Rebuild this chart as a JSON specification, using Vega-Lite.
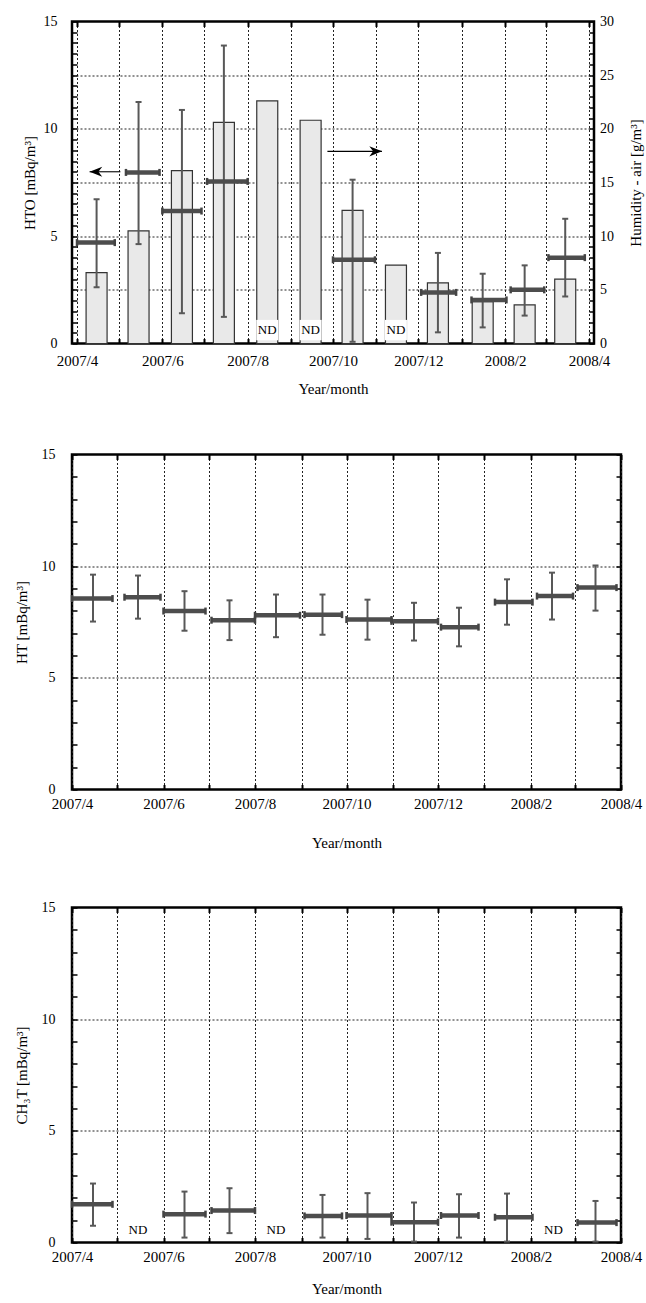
{
  "$schema": "https://vega.github.io/schema/vega-lite/v6.json",
  "background": "white",
  "padding": {"left": 12, "top": 12.5, "right": 0, "bottom": 5},
  "config": {
    "view": {"stroke": "#000", "strokeWidth": 2.5},
    "font": "Liberation Serif",
    "axis": {"labelFont": "Liberation Serif", "titleFont": "Liberation Serif", "labelFontSize": 15, "titleFontSize": 15, "titleFontWeight": "normal", "labelColor": "#000", "titleColor": "#000", "domain": false, "tickColor": "#000", "tickWidth": 1.5, "tickSize": -5, "gridColor": "#222", "gridDash": [2, 2], "gridWidth": 1},
    "axisY": {"labelFontSize": 14},
    "text": {"font": "Liberation Serif"}
  },
  "datasets": {
    "hto": [
      {"month": "2007-04", "start": "2007-04-01", "end": "2007-04-28", "mid": "2007-04-15", "hto": 4.70, "lo": 2.62, "hi": 6.72, "humidity": 6.6, "nd": false},
      {"month": "2007-05", "start": "2007-05-06", "end": "2007-05-30", "mid": "2007-05-15", "hto": 7.97, "lo": 4.63, "hi": 11.25, "humidity": 10.5, "nd": false},
      {"month": "2007-06", "start": "2007-06-01", "end": "2007-06-29", "mid": "2007-06-15", "hto": 6.17, "lo": 1.41, "hi": 10.88, "humidity": 16.1, "nd": false},
      {"month": "2007-07", "start": "2007-07-03", "end": "2007-08-01", "mid": "2007-07-15", "hto": 7.55, "lo": 1.24, "hi": 13.88, "humidity": 20.6, "nd": false},
      {"month": "2007-08", "mid": "2007-08-15", "humidity": 22.6, "nd": true},
      {"month": "2007-09", "mid": "2007-09-15", "humidity": 20.8, "nd": true},
      {"month": "2007-10", "start": "2007-10-01", "end": "2007-10-31", "mid": "2007-10-15", "hto": 3.90, "lo": 0.08, "hi": 7.63, "humidity": 12.4, "nd": false},
      {"month": "2007-11", "mid": "2007-11-15", "humidity": 7.3, "nd": true},
      {"month": "2007-12", "start": "2007-12-03", "end": "2007-12-28", "mid": "2007-12-15", "hto": 2.38, "lo": 0.52, "hi": 4.22, "humidity": 5.65, "nd": false},
      {"month": "2008-01", "start": "2008-01-08", "end": "2008-02-02", "mid": "2008-01-16", "hto": 2.03, "lo": 0.75, "hi": 3.25, "humidity": 3.9, "nd": false},
      {"month": "2008-02", "start": "2008-02-05", "end": "2008-02-29", "mid": "2008-02-15", "hto": 2.50, "lo": 1.30, "hi": 3.64, "humidity": 3.6, "nd": false},
      {"month": "2008-03", "start": "2008-03-03", "end": "2008-03-29", "mid": "2008-03-15", "hto": 4.00, "lo": 2.19, "hi": 5.81, "humidity": 6.0, "nd": false}
    ],
    "arrows": [
      {"series": "HTO", "tail": "2007-05-02", "tip": "2007-04-10", "level": 8.0},
      {"series": "Humidity", "tail": "2007-09-27", "tip": "2007-11-05", "level": 8.95}
    ],
    "ht": [
      {"month": "2007-04", "start": "2007-04-01", "end": "2007-04-28", "mid": "2007-04-15", "val": 8.55, "lo": 7.52, "hi": 9.62},
      {"month": "2007-05", "start": "2007-05-06", "end": "2007-05-30", "mid": "2007-05-15", "val": 8.61, "lo": 7.65, "hi": 9.58},
      {"month": "2007-06", "start": "2007-06-01", "end": "2007-06-29", "mid": "2007-06-15", "val": 7.99, "lo": 7.11, "hi": 8.88},
      {"month": "2007-07", "start": "2007-07-03", "end": "2007-08-01", "mid": "2007-07-15", "val": 7.58, "lo": 6.69, "hi": 8.47},
      {"month": "2007-08", "start": "2007-08-01", "end": "2007-08-31", "mid": "2007-08-15", "val": 7.80, "lo": 6.82, "hi": 8.73},
      {"month": "2007-09", "start": "2007-09-03", "end": "2007-09-28", "mid": "2007-09-15", "val": 7.83, "lo": 6.93, "hi": 8.73},
      {"month": "2007-10", "start": "2007-10-01", "end": "2007-10-31", "mid": "2007-10-15", "val": 7.61, "lo": 6.71, "hi": 8.50},
      {"month": "2007-11", "start": "2007-10-31", "end": "2007-12-01", "mid": "2007-11-15", "val": 7.53, "lo": 6.67, "hi": 8.36},
      {"month": "2007-12", "start": "2007-12-03", "end": "2007-12-28", "mid": "2007-12-15", "val": 7.27, "lo": 6.41, "hi": 8.14},
      {"month": "2008-01", "start": "2008-01-08", "end": "2008-02-02", "mid": "2008-01-16", "val": 8.39, "lo": 7.38, "hi": 9.41},
      {"month": "2008-02", "start": "2008-02-05", "end": "2008-02-29", "mid": "2008-02-15", "val": 8.66, "lo": 7.61, "hi": 9.71},
      {"month": "2008-03", "start": "2008-03-03", "end": "2008-03-29", "mid": "2008-03-15", "val": 9.04, "lo": 8.01, "hi": 10.03}
    ],
    "ch3t": [
      {"month": "2007-04", "start": "2007-04-01", "end": "2007-04-28", "mid": "2007-04-15", "val": 1.71, "lo": 0.75, "hi": 2.64, "nd": false},
      {"month": "2007-05", "mid": "2007-05-15", "nd": true},
      {"month": "2007-06", "start": "2007-06-01", "end": "2007-06-29", "mid": "2007-06-15", "val": 1.27, "lo": 0.22, "hi": 2.28, "nd": false},
      {"month": "2007-07", "start": "2007-07-03", "end": "2007-08-01", "mid": "2007-07-15", "val": 1.43, "lo": 0.42, "hi": 2.43, "nd": false},
      {"month": "2007-08", "mid": "2007-08-15", "nd": true},
      {"month": "2007-09", "start": "2007-09-03", "end": "2007-09-28", "mid": "2007-09-15", "val": 1.19, "lo": 0.22, "hi": 2.13, "nd": false},
      {"month": "2007-10", "start": "2007-10-01", "end": "2007-10-31", "mid": "2007-10-15", "val": 1.21, "lo": 0.16, "hi": 2.21, "nd": false},
      {"month": "2007-11", "start": "2007-10-31", "end": "2007-12-01", "mid": "2007-11-15", "val": 0.91, "lo": 0.04, "hi": 1.79, "nd": false},
      {"month": "2007-12", "start": "2007-12-03", "end": "2007-12-28", "mid": "2007-12-15", "val": 1.21, "lo": 0.22, "hi": 2.16, "nd": false},
      {"month": "2008-01", "start": "2008-01-08", "end": "2008-02-02", "mid": "2008-01-16", "val": 1.13, "lo": 0.04, "hi": 2.19, "nd": false},
      {"month": "2008-02", "mid": "2008-02-16", "nd": true},
      {"month": "2008-03", "start": "2008-03-03", "end": "2008-03-29", "mid": "2008-03-15", "val": 0.89, "lo": 0.04, "hi": 1.86, "nd": false}
    ]
  },
  "columns": 1,
  "spacing": 47,
  "concat": [
    {
      "width": 522,
      "height": 322,
      "data": {"name": "hto"},
      "layer": [
        {
          "mark": {"type": "bar", "width": 21, "fill": "#e9e9e9", "stroke": "#333", "strokeWidth": 1.2},
          "encoding": {
            "x": {"field": "mid", "type": "temporal", "scale": {"type": "utc", "domain": [{"year": 2007, "month": 4, "date": 1, "utc": true}, {"year": 2008, "month": 4, "date": 1, "utc": true}]}, "axis": null},
            "y": {"field": "humidity", "type": "quantitative", "scale": {"domain": [0, 30], "nice": false},
              "axis": {"orient": "right", "title": "Humidity - air [g/m³]", "titleAngle": 270, "titleBaseline": "top", "values": [0,1,2,3,4,5,6,7,8,9,10,11,12,13,14,15,16,17,18,19,20,21,22,23,24,25,26,27,28,29,30], "labelExpr": "datum.value % 5 == 0 ? format(datum.value, 'd') : ''", "grid": false, "labelPadding": 10.5, "titlePadding": 15}}
          }
        },
        {
          "layer": [
            {
              "transform": [{"filter": "!datum.nd"}],
              "mark": {"type": "rule", "color": "#585858", "strokeWidth": 2},
              "encoding": {
                "x": {"field": "mid", "type": "temporal", "scale": {"type": "utc", "domain": [{"year": 2007, "month": 4, "date": 1, "utc": true}, {"year": 2008, "month": 4, "date": 1, "utc": true}]},
                  "axis": {"orient": "top", "title": null, "tickCount": {"interval": "month", "step": 1}, "labels": false, "grid": false, "tickWidth": 2}},
                "y": {"field": "lo", "type": "quantitative", "scale": {"domain": [0, 15], "nice": false}, "axis": null},
                "y2": {"field": "hi"}
              }
            },
            {
              "transform": [{"filter": "!datum.nd"}],
              "mark": {"type": "tick", "orient": "horizontal", "size": 6, "thickness": 2, "color": "#585858", "opacity": 1},
              "encoding": {
                "x": {"field": "mid", "type": "temporal", "scale": {"type": "utc", "domain": [{"year": 2007, "month": 4, "date": 1, "utc": true}, {"year": 2008, "month": 4, "date": 1, "utc": true}]}, "axis": null},
                "y": {"field": "lo", "type": "quantitative", "scale": {"domain": [0, 15], "nice": false}, "axis": null}
              }
            },
            {
              "transform": [{"filter": "!datum.nd"}],
              "mark": {"type": "tick", "orient": "horizontal", "size": 6, "thickness": 2, "color": "#585858", "opacity": 1},
              "encoding": {
                "x": {"field": "mid", "type": "temporal", "scale": {"type": "utc", "domain": [{"year": 2007, "month": 4, "date": 1, "utc": true}, {"year": 2008, "month": 4, "date": 1, "utc": true}]}, "axis": null},
                "y": {"field": "hi", "type": "quantitative", "scale": {"domain": [0, 15], "nice": false}, "axis": null}
              }
            },
            {
              "transform": [{"filter": "!datum.nd"}],
              "mark": {"type": "rule", "color": "#4d4d4d", "strokeWidth": 4.5},
              "encoding": {
                "x": {"field": "start", "type": "temporal", "scale": {"type": "utc", "domain": [{"year": 2007, "month": 4, "date": 1, "utc": true}, {"year": 2008, "month": 4, "date": 1, "utc": true}]},
                  "axis": {"orient": "bottom", "title": "Year/month", "tickCount": {"interval": "month", "step": 1}, "labelExpr": "utcmonth(datum.value) % 2 == 1 ? utcFormat(datum.value, '%Y/%-m') : ''", "labelFlush": false, "labelOverlap": false, "grid": true, "tickWidth": 2, "labelPadding": 14.5, "titlePadding": 13.5}},
                "x2": {"field": "end"},
                "y": {"field": "hto", "type": "quantitative", "scale": {"domain": [0, 15], "nice": false},
                  "axis": {"orient": "left", "title": "HTO [mBq/m³]", "values": [0,0.5,1,1.5,2,2.5,3,3.5,4,4.5,5,5.5,6,6.5,7,7.5,8,8.5,9,9.5,10,10.5,11,11.5,12,12.5,13,13.5,14,14.5,15], "labelExpr": "datum.value % 5 == 0 ? format(datum.value, 'd') : ''", "grid": true, "gridOpacity": {"condition": {"test": "datum.value % 2.5 == 0 && datum.value > 0 && datum.value < 15", "value": 1}, "value": 0}, "labelPadding": 20, "titlePadding": 6}}
              }
            },
            {
              "transform": [{"filter": "!datum.nd"}],
              "mark": {"type": "tick", "orient": "vertical", "size": 7, "thickness": 2.5, "color": "#444", "opacity": 1},
              "encoding": {
                "x": {"field": "start", "type": "temporal", "scale": {"type": "utc", "domain": [{"year": 2007, "month": 4, "date": 1, "utc": true}, {"year": 2008, "month": 4, "date": 1, "utc": true}]}, "axis": null},
                "y": {"field": "hto", "type": "quantitative", "scale": {"domain": [0, 15], "nice": false}, "axis": null}
              }
            },
            {
              "transform": [{"filter": "!datum.nd"}],
              "mark": {"type": "tick", "orient": "vertical", "size": 7, "thickness": 2.5, "color": "#444", "opacity": 1},
              "encoding": {
                "x": {"field": "end", "type": "temporal", "scale": {"type": "utc", "domain": [{"year": 2007, "month": 4, "date": 1, "utc": true}, {"year": 2008, "month": 4, "date": 1, "utc": true}]}, "axis": null},
                "y": {"field": "hto", "type": "quantitative", "scale": {"domain": [0, 15], "nice": false}, "axis": null}
              }
            },
            {
              "transform": [{"filter": "datum.nd"}],
              "mark": {"type": "bar", "width": 22, "fill": "white", "stroke": null},
              "encoding": {
                "x": {"field": "mid", "type": "temporal", "scale": {"type": "utc", "domain": [{"year": 2007, "month": 4, "date": 1, "utc": true}, {"year": 2008, "month": 4, "date": 1, "utc": true}]}, "axis": null},
                "y": {"datum": 0.15, "type": "quantitative", "scale": {"domain": [0, 15], "nice": false}, "axis": null},
                "y2": {"datum": 1.1}
              }
            },
            {
              "transform": [{"filter": "datum.nd"}],
              "mark": {"type": "text", "text": "ND", "fontSize": 13, "font": "Liberation Serif", "color": "#000", "baseline": "middle", "align": "center"},
              "encoding": {
                "x": {"field": "mid", "type": "temporal", "scale": {"type": "utc", "domain": [{"year": 2007, "month": 4, "date": 1, "utc": true}, {"year": 2008, "month": 4, "date": 1, "utc": true}]}, "axis": null},
                "y": {"datum": 0.62, "type": "quantitative", "scale": {"domain": [0, 15], "nice": false}, "axis": null}
              }
            },
            {
              "data": {"name": "arrows"},
              "mark": {"type": "rule", "color": "#000", "strokeWidth": 1.1},
              "encoding": {
                "x": {"field": "tail", "type": "temporal", "scale": {"type": "utc", "domain": [{"year": 2007, "month": 4, "date": 1, "utc": true}, {"year": 2008, "month": 4, "date": 1, "utc": true}]}, "axis": null},
                "x2": {"field": "tip"},
                "y": {"field": "level", "type": "quantitative", "scale": {"domain": [0, 15], "nice": false}, "axis": null}
              }
            },
            {
              "data": {"name": "arrows"},
              "transform": [{"filter": "datum.series == 'HTO'"}],
              "mark": {"type": "point", "shape": "M 0 0 L 2 -0.8 L 1.4 0 L 2 0.8 Z", "size": 160, "filled": true, "color": "#000", "opacity": 1},
              "encoding": {
                "x": {"field": "tip", "type": "temporal", "scale": {"type": "utc", "domain": [{"year": 2007, "month": 4, "date": 1, "utc": true}, {"year": 2008, "month": 4, "date": 1, "utc": true}]}, "axis": null},
                "y": {"field": "level", "type": "quantitative", "scale": {"domain": [0, 15], "nice": false}, "axis": null}
              }
            },
            {
              "data": {"name": "arrows"},
              "transform": [{"filter": "datum.series == 'Humidity'"}],
              "mark": {"type": "point", "shape": "M 0 0 L -2 -0.8 L -1.4 0 L -2 0.8 Z", "size": 160, "filled": true, "color": "#000", "opacity": 1},
              "encoding": {
                "x": {"field": "tip", "type": "temporal", "scale": {"type": "utc", "domain": [{"year": 2007, "month": 4, "date": 1, "utc": true}, {"year": 2008, "month": 4, "date": 1, "utc": true}]}, "axis": null},
                "y": {"field": "level", "type": "quantitative", "scale": {"domain": [0, 15], "nice": false}, "axis": null}
              }
            }
          ],
          "resolve": {"axis": {"x": "independent", "y": "independent"}}
        }
      ],
      "resolve": {"scale": {"y": "independent"}, "axis": {"x": "independent", "y": "independent"}}
    },
    {
      "width": 549,
      "height": 335,
      "data": {"name": "ht"},
      "layer": [
        {
          "mark": {"type": "rule", "color": "#585858", "strokeWidth": 2},
          "encoding": {
            "x": {"field": "mid", "type": "temporal", "scale": {"type": "utc", "domain": [{"year": 2007, "month": 4, "date": 1, "utc": true}, {"year": 2008, "month": 4, "date": 1, "utc": true}]},
              "axis": {"orient": "top", "title": null, "tickCount": {"interval": "month", "step": 1}, "labels": false, "grid": false, "tickWidth": 2}},
            "y": {"field": "lo", "type": "quantitative", "scale": {"domain": [0, 15], "nice": false},
              "axis": {"orient": "right", "title": null, "values": [0,1,2,3,4,5,6,7,8,9,10,11,12,13,14,15], "labels": false, "grid": false}},
            "y2": {"field": "hi"}
          }
        },
        {
          "mark": {"type": "tick", "orient": "horizontal", "size": 6, "thickness": 2, "color": "#585858", "opacity": 1},
          "encoding": {
            "x": {"field": "mid", "type": "temporal", "scale": {"type": "utc", "domain": [{"year": 2007, "month": 4, "date": 1, "utc": true}, {"year": 2008, "month": 4, "date": 1, "utc": true}]}, "axis": null},
            "y": {"field": "lo", "type": "quantitative", "scale": {"domain": [0, 15], "nice": false}, "axis": null}
          }
        },
        {
          "mark": {"type": "tick", "orient": "horizontal", "size": 6, "thickness": 2, "color": "#585858", "opacity": 1},
          "encoding": {
            "x": {"field": "mid", "type": "temporal", "scale": {"type": "utc", "domain": [{"year": 2007, "month": 4, "date": 1, "utc": true}, {"year": 2008, "month": 4, "date": 1, "utc": true}]}, "axis": null},
            "y": {"field": "hi", "type": "quantitative", "scale": {"domain": [0, 15], "nice": false}, "axis": null}
          }
        },
        {
          "mark": {"type": "rule", "color": "#4d4d4d", "strokeWidth": 4.5},
          "encoding": {
            "x": {"field": "start", "type": "temporal", "scale": {"type": "utc", "domain": [{"year": 2007, "month": 4, "date": 1, "utc": true}, {"year": 2008, "month": 4, "date": 1, "utc": true}]},
              "axis": {"orient": "bottom", "title": "Year/month", "tickCount": {"interval": "month", "step": 1}, "labelExpr": "utcmonth(datum.value) % 2 == 1 ? utcFormat(datum.value, '%Y/%-m') : ''", "labelFlush": false, "labelOverlap": false, "grid": true, "tickWidth": 2, "labelPadding": 11.5, "titlePadding": 24}},
            "x2": {"field": "end"},
            "y": {"field": "val", "type": "quantitative", "scale": {"domain": [0, 15], "nice": false},
              "axis": {"orient": "left", "title": "HT [mBq/m³]", "values": [0,1,2,3,4,5,6,7,8,9,10,11,12,13,14,15], "labelExpr": "datum.value % 5 == 0 ? format(datum.value, 'd') : ''", "grid": true, "gridOpacity": {"condition": {"test": "datum.value % 5 == 0 && datum.value > 0 && datum.value < 15", "value": 1}, "value": 0}, "labelPadding": 22, "titlePadding": 12}}
          }
        },
        {
          "mark": {"type": "tick", "orient": "vertical", "size": 7, "thickness": 2.5, "color": "#444", "opacity": 1},
          "encoding": {
            "x": {"field": "start", "type": "temporal", "scale": {"type": "utc", "domain": [{"year": 2007, "month": 4, "date": 1, "utc": true}, {"year": 2008, "month": 4, "date": 1, "utc": true}]}, "axis": null},
            "y": {"field": "val", "type": "quantitative", "scale": {"domain": [0, 15], "nice": false}, "axis": null}
          }
        },
        {
          "mark": {"type": "tick", "orient": "vertical", "size": 7, "thickness": 2.5, "color": "#444", "opacity": 1},
          "encoding": {
            "x": {"field": "end", "type": "temporal", "scale": {"type": "utc", "domain": [{"year": 2007, "month": 4, "date": 1, "utc": true}, {"year": 2008, "month": 4, "date": 1, "utc": true}]}, "axis": null},
            "y": {"field": "val", "type": "quantitative", "scale": {"domain": [0, 15], "nice": false}, "axis": null}
          }
        }
      ],
      "resolve": {"axis": {"x": "independent", "y": "independent"}}
    },
    {
      "width": 549,
      "height": 335,
      "data": {"name": "ch3t"},
      "layer": [
        {
          "transform": [{"filter": "!datum.nd"}],
          "mark": {"type": "rule", "color": "#585858", "strokeWidth": 2},
          "encoding": {
            "x": {"field": "mid", "type": "temporal", "scale": {"type": "utc", "domain": [{"year": 2007, "month": 4, "date": 1, "utc": true}, {"year": 2008, "month": 4, "date": 1, "utc": true}]},
              "axis": {"orient": "top", "title": null, "tickCount": {"interval": "month", "step": 1}, "labels": false, "grid": false, "tickWidth": 2}},
            "y": {"field": "lo", "type": "quantitative", "scale": {"domain": [0, 15], "nice": false},
              "axis": {"orient": "right", "title": null, "values": [0,1,2,3,4,5,6,7,8,9,10,11,12,13,14,15], "labels": false, "grid": false}},
            "y2": {"field": "hi"}
          }
        },
        {
          "transform": [{"filter": "!datum.nd"}],
          "mark": {"type": "tick", "orient": "horizontal", "size": 6, "thickness": 2, "color": "#585858", "opacity": 1},
          "encoding": {
            "x": {"field": "mid", "type": "temporal", "scale": {"type": "utc", "domain": [{"year": 2007, "month": 4, "date": 1, "utc": true}, {"year": 2008, "month": 4, "date": 1, "utc": true}]}, "axis": null},
            "y": {"field": "lo", "type": "quantitative", "scale": {"domain": [0, 15], "nice": false}, "axis": null}
          }
        },
        {
          "transform": [{"filter": "!datum.nd"}],
          "mark": {"type": "tick", "orient": "horizontal", "size": 6, "thickness": 2, "color": "#585858", "opacity": 1},
          "encoding": {
            "x": {"field": "mid", "type": "temporal", "scale": {"type": "utc", "domain": [{"year": 2007, "month": 4, "date": 1, "utc": true}, {"year": 2008, "month": 4, "date": 1, "utc": true}]}, "axis": null},
            "y": {"field": "hi", "type": "quantitative", "scale": {"domain": [0, 15], "nice": false}, "axis": null}
          }
        },
        {
          "transform": [{"filter": "!datum.nd"}],
          "mark": {"type": "rule", "color": "#4d4d4d", "strokeWidth": 4.5},
          "encoding": {
            "x": {"field": "start", "type": "temporal", "scale": {"type": "utc", "domain": [{"year": 2007, "month": 4, "date": 1, "utc": true}, {"year": 2008, "month": 4, "date": 1, "utc": true}]},
              "axis": {"orient": "bottom", "title": "Year/month", "tickCount": {"interval": "month", "step": 1}, "labelExpr": "utcmonth(datum.value) % 2 == 1 ? utcFormat(datum.value, '%Y/%-m') : ''", "labelFlush": false, "labelOverlap": false, "grid": true, "tickWidth": 2, "labelPadding": 11.5, "titlePadding": 17}},
            "x2": {"field": "end"},
            "y": {"field": "val", "type": "quantitative", "scale": {"domain": [0, 15], "nice": false},
              "axis": {"orient": "left", "title": "CH₃T [mBq/m³]", "values": [0,1,2,3,4,5,6,7,8,9,10,11,12,13,14,15], "labelExpr": "datum.value % 5 == 0 ? format(datum.value, 'd') : ''", "grid": true, "gridOpacity": {"condition": {"test": "datum.value % 5 == 0 && datum.value > 0 && datum.value < 15", "value": 1}, "value": 0}, "labelPadding": 22, "titlePadding": 12}}
          }
        },
        {
          "transform": [{"filter": "!datum.nd"}],
          "mark": {"type": "tick", "orient": "vertical", "size": 7, "thickness": 2.5, "color": "#444", "opacity": 1},
          "encoding": {
            "x": {"field": "start", "type": "temporal", "scale": {"type": "utc", "domain": [{"year": 2007, "month": 4, "date": 1, "utc": true}, {"year": 2008, "month": 4, "date": 1, "utc": true}]}, "axis": null},
            "y": {"field": "val", "type": "quantitative", "scale": {"domain": [0, 15], "nice": false}, "axis": null}
          }
        },
        {
          "transform": [{"filter": "!datum.nd"}],
          "mark": {"type": "tick", "orient": "vertical", "size": 7, "thickness": 2.5, "color": "#444", "opacity": 1},
          "encoding": {
            "x": {"field": "end", "type": "temporal", "scale": {"type": "utc", "domain": [{"year": 2007, "month": 4, "date": 1, "utc": true}, {"year": 2008, "month": 4, "date": 1, "utc": true}]}, "axis": null},
            "y": {"field": "val", "type": "quantitative", "scale": {"domain": [0, 15], "nice": false}, "axis": null}
          }
        },
        {
          "transform": [{"filter": "datum.nd"}],
          "mark": {"type": "text", "text": "ND", "fontSize": 13, "font": "Liberation Serif", "color": "#000", "baseline": "middle", "align": "center"},
          "encoding": {
            "x": {"field": "mid", "type": "temporal", "scale": {"type": "utc", "domain": [{"year": 2007, "month": 4, "date": 1, "utc": true}, {"year": 2008, "month": 4, "date": 1, "utc": true}]}, "axis": null},
            "y": {"datum": 0.58, "type": "quantitative", "scale": {"domain": [0, 15], "nice": false}, "axis": null}
          }
        }
      ],
      "resolve": {"axis": {"x": "independent", "y": "independent"}}
    }
  ]
}
